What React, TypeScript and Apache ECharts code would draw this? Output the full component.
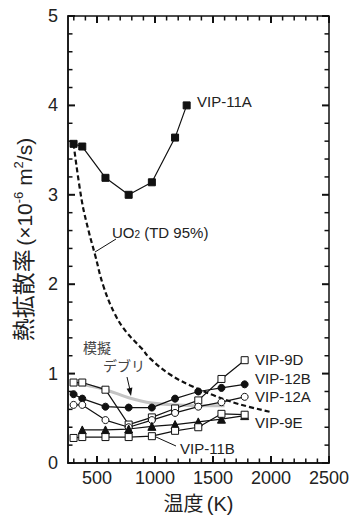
import React, { useEffect, useRef } from "react";
import * as echarts from "echarts";

// Temperatures (K) of the measurement points
const temps = [298, 373, 573, 773, 973, 1173, 1373, 1573, 1773];
const vip11A_T = [298, 373, 573, 773, 973, 1173, 1273];
const vip11A = [3.57, 3.54, 3.19, 3.0, 3.14, 3.64, 4.0];
const uo2_T = [298, 368, 425, 483, 555, 656, 756, 886, 957, 1130, 1300, 1500, 1720, 2000];
const uo2 = [3.57, 2.94, 2.61, 2.33, 1.98, 1.66, 1.46, 1.28, 1.17, 0.99, 0.87, 0.76, 0.66, 0.57];
const vip9D = [0.9, 0.9, 0.82, 0.43, 0.51, 0.61, 0.7, 0.94, 1.15];
const vip12B = [0.77, 0.72, 0.63, 0.62, 0.62, 0.72, 0.8, 0.84, 0.88];
const vip12A = [0.65, 0.65, 0.48, 0.4, 0.48, 0.56, 0.63, 0.68, 0.74];
const vip9E_T = [373, 573, 773, 973, 1173, 1373, 1573, 1773];
const vip9E = [0.37, 0.37, 0.38, 0.41, 0.43, 0.46, 0.49, 0.53];
const vip11B = [0.28, 0.29, 0.29, 0.29, 0.3, 0.36, 0.4, 0.55, 0.54];
const debris_T = [298, 373, 573, 773, 973, 1173, 1373, 1600];
const debris = [0.9, 0.88, 0.82, 0.73, 0.67, 0.65, 0.64, 0.64];

const xMajor = [500, 1000, 1500, 2000, 2500];
const xMinor = Array.from({ length: 23 }, (_, i) => 300 + i * 100);
const yMajor = [0, 1, 2, 3, 4, 5];
const yMinor = Array.from({ length: 26 }, (_, i) => i / 5);

const X_MIN = 250;
const X_MAX = 2500;
const Y_MIN = 0;
const Y_MAX = 5;
const W = 357;
const H = 519;
const GRID = { left: 68, right: 28, top: 16, bottom: 56 };

const FONT = "'Liberation Sans', Arial, 'Noto Sans CJK JP', sans-serif";

const zip = (xs: number[], ys: number[]) => xs.map((x, i) => [x, ys[i]]);

export default function App() {
  const ref = useRef<HTMLDivElement>(null);
  useEffect(() => {
    document.body.style.margin = "0";
    if (!ref.current) return;
    const chart = echarts.init(ref.current, null, { renderer: "svg" });

    const mk = (
      name: string,
      data: number[][],
      symbol: string,
      filled: boolean,
      size: number
    ) => ({
      name,
      type: "line",
      data,
      symbol,
      symbolSize: size,
      lineStyle: { color: "#111", width: 1.2 },
      itemStyle: {
        color: filled ? "#111" : "#fff",
        borderColor: "#111",
        borderWidth: 1,
      },
      z: 5,
    });

    const txt = (text: string, x: number, y: number, size = 15, fill = "#222") => ({
      type: "text",
      x,
      y,
      z: 10,
      style: { text, font: `${size}px ${FONT}`, fill, align: "left", verticalAlign: "middle" },
    });

    // Frame ticks (inside) from the grid geometry
    const left = GRID.left;
    const right = W - GRID.right;
    const top = GRID.top;
    const bottom = H - GRID.bottom;
    const px = (v: number) => left + ((v - X_MIN) / (X_MAX - X_MIN)) * (right - left);
    const py = (v: number) => bottom - ((v - Y_MIN) / (Y_MAX - Y_MIN)) * (bottom - top);
    const tickEls: any[] = [];
    const tl = (x1: number, y1: number, x2: number, y2: number, w: number) =>
      tickEls.push({ type: "line", z: 10, shape: { x1, y1, x2, y2 }, style: { stroke: "#111", lineWidth: w } });
    xMinor.forEach((v) => {
      const major = xMajor.includes(v);
      const len = major ? 7 : 4.5;
      const w = major ? 2 : 1.5;
      const x = px(v);
      tl(x, bottom, x, bottom - len, w);
      tl(x, top, x, top + len, w);
    });
    yMinor.forEach((v) => {
      const major = yMajor.some((m) => Math.abs(m - v) < 1e-9);
      const len = major ? 7 : 4.5;
      const w = major ? 2 : 1.5;
      const y = py(v);
      tl(left, y, left + len, y, w);
      tl(right, y, right - len, y, w);
    });

    chart.setOption({
      animation: false,
      grid: {
        ...GRID,
        show: true,
        borderColor: "#111",
        borderWidth: 1.5,
        backgroundColor: "transparent",
      },
      xAxis: {
        type: "value",
        min: X_MIN,
        max: X_MAX,
        position: "bottom",
        splitLine: { show: false },
        axisLine: { show: true, onZero: false, lineStyle: { color: "#111", width: 1.5 } },
        axisTick: { show: false },
        axisLabel: {
          customValues: xMajor,
          formatter: (v: number) => String(v),
          fontSize: 18,
          color: "#222",
          fontFamily: FONT,
          margin: 6,
        },
        name: "{c|温度} {l|(K)}",
        nameLocation: "middle",
        nameGap: 31,
        nameTextStyle: {
          rich: {
            c: { fontSize: 20, fontFamily: FONT, color: "#222" },
            l: { fontSize: 20, fontFamily: FONT, color: "#222" },
          },
        },
      },
      yAxis: {
        type: "value",
        min: Y_MIN,
        max: Y_MAX,
        interval: 1,
        position: "left",
        splitLine: { show: false },
        axisLine: { show: true, onZero: false, lineStyle: { color: "#111", width: 1.5 } },
        axisTick: { show: false },
        axisLabel: {
          fontSize: 18,
          color: "#222",
          fontFamily: FONT,
          margin: 10,
        },
        name: "{c|熱拡散率} {l|(×10}{s|-6}{l| m}{s|2}{l|/s)}",
        nameLocation: "middle",
        nameRotate: 90,
        nameGap: 33,
        nameTextStyle: {
          rich: {
            c: { fontSize: 23, fontFamily: FONT, color: "#222", verticalAlign: "bottom" },
            l: { fontSize: 21, fontFamily: FONT, color: "#222", verticalAlign: "bottom" },
            s: { fontSize: 13, fontFamily: FONT, color: "#222", verticalAlign: "top" },
          },
        },
      },
      series: [
        {
          name: "模擬デブリ",
          type: "line",
          data: zip(debris_T, debris),
          smooth: 0.4,
          symbol: "none",
          lineStyle: { color: "#c4c4c4", width: 3 },
          z: 2,
        },
        {
          name: "UO2 (TD 95%)",
          type: "line",
          data: zip(uo2_T, uo2),
          smooth: 0.4,
          symbol: "none",
          lineStyle: { color: "#111", width: 2.2, type: [5, 3] },
          z: 3,
        },
        mk("VIP-11A", zip(vip11A_T, vip11A), "rect", true, 7),
        mk("VIP-9D", zip(temps, vip9D), "rect", false, 7),
        mk("VIP-12B", zip(temps, vip12B), "circle", true, 7),
        mk("VIP-12A", zip(temps, vip12A), "circle", false, 7),
        mk("VIP-9E", zip(vip9E_T, vip9E), "triangle", true, 8),
        mk("VIP-11B", zip(temps, vip11B), "rect", false, 7),
      ],
      graphic: [
        ...tickEls,
        txt("VIP-11A", 197, 101),
        {
          type: "text",
          x: 112,
          y: 232,
          z: 10,
          style: {
            text: "{a|UO}{b|2}{a| (TD 95%)}",
            align: "left",
            verticalAlign: "middle",
            rich: {
              a: { fontSize: 15, fontFamily: FONT, fill: "#222", verticalAlign: "top" },
              b: { fontSize: 10, fontFamily: FONT, fill: "#222", verticalAlign: "bottom" },
            },
          },
        },
        { type: "line", z: 10, shape: { x1: 95, y1: 252, x2: 116, y2: 239 }, style: { stroke: "#111", lineWidth: 1 } },
        txt("模擬", 83, 348, 14, "#444"),
        txt("デブリ", 103, 366, 14, "#444"),
        { type: "line", z: 10, shape: { x1: 127, y1: 377, x2: 130, y2: 390 }, style: { stroke: "#111", lineWidth: 1 } },
        { type: "polygon", z: 10, shape: { points: [[131, 396], [126.6, 388.8], [132.4, 387.6]] }, style: { fill: "#111" } },
        txt("VIP-9D", 255, 359),
        txt("VIP-12B", 255, 378),
        txt("VIP-12A", 255, 396),
        txt("VIP-9E", 255, 422),
        txt("VIP-11B", 180, 448),
        { type: "line", z: 10, shape: { x1: 156, y1: 437, x2: 176, y2: 446 }, style: { stroke: "#111", lineWidth: 1 } },
      ],
    });
    return () => chart.dispose();
  }, []);
  return <div ref={ref} style={{ width: 357, height: 519 }} />;
}
